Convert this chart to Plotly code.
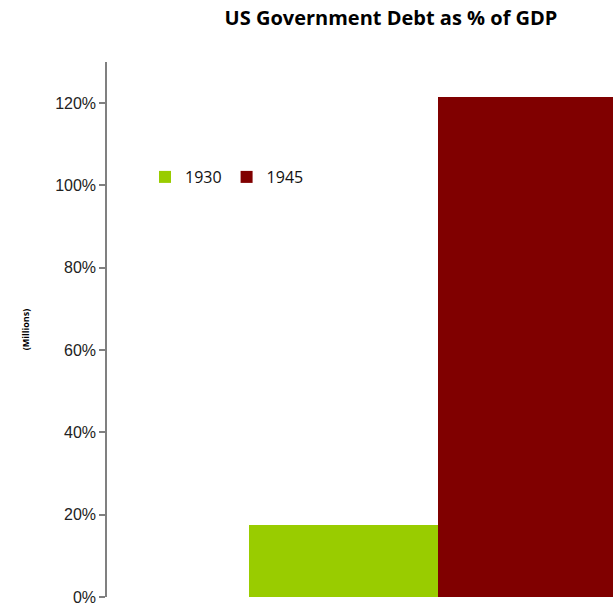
import plotly.graph_objects as go

years = ["1930", "1945"]
debt_pct = [17.5, 121.6]
colors = ["#99cc00", "#800000"]
y_ticks = [0, 20, 40, 60, 80, 100, 120]
y_tick_labels = ["0%", "20%", "40%", "60%", "80%", "100%", "120%"]

fig = go.Figure()
for i, (yr, v, c) in enumerate(zip(years, debt_pct, colors)):
    fig.add_trace(go.Bar(x=[i], y=[v], name=yr, marker=dict(color=c, line=dict(width=0)), width=1))

fig.update_layout(
    width=613, height=603,
    margin=dict(l=107, r=0, t=62, b=6),
    paper_bgcolor="white", plot_bgcolor="white",
    title=dict(text="<b>US Government Debt as % of GDP</b>", x=391/613, xanchor="center",
               y=1 - 18/603, yanchor="middle",
               font=dict(family="Open Sans", size=20, color="#000000")),
    showlegend=True,
    legend=dict(orientation="h", x=(145-107)/506, xref="paper", y=1 - (177-62)/535, yanchor="middle",
                font=dict(family="Open Sans", size=16, color="#111111"),
                bgcolor="rgba(0,0,0,0)", itemwidth=30, traceorder="normal", tracegroupgap=0),
    bargap=0,
    xaxis=dict(range=[-1.251, 1.426], showticklabels=False, showline=False, showgrid=False,
               zeroline=False, ticks="", automargin=False),
    yaxis=dict(range=[0, 130], tickvals=y_ticks, ticktext=y_tick_labels, showgrid=False,
               zeroline=False, showline=True, linecolor="#808080", linewidth=1.5,
               ticks="outside", ticklen=6, tickcolor="#808080", tickwidth=1.5,
               ticklabeloverflow="allow", automargin=False,
               tickfont=dict(family="Liberation Sans", size=16, color="#222222"),
               title=dict(text="<b>(Millions)</b>", font=dict(family="Open Sans", size=9, color="#000000"),
                          standoff=24)),
)

fig.write_html("out.html")
